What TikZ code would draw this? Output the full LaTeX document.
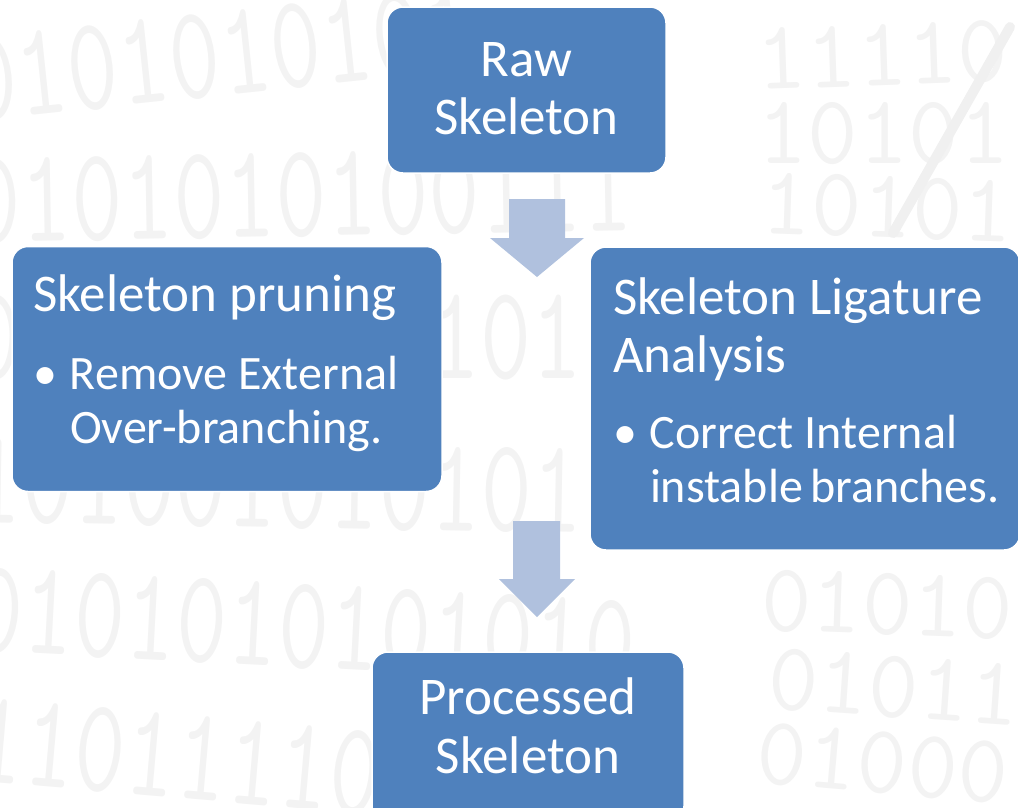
\documentclass[tikz,border=0pt]{standalone}
\usepackage{fontspec}
\setmainfont{Carlito}
\usetikzlibrary{positioning}

\definecolor{boxblue}{RGB}{79,129,189}
\definecolor{arrowblue}{RGB}{176,193,222}
\definecolor{bitgray}{RGB}{243,243,243}

% the fonts' own word spaces, not the ones of the node alignment
\newcommand{\headfont}{\fontsize{53}{58.5}\selectfont\spaceskip=0pt\xspaceskip=0pt\relax}
\newcommand{\itemfont}{\fontsize{48}{54}\selectfont\spaceskip=0pt\xspaceskip=0pt\relax}
\newcommand{\itembullet}{\makebox[37pt][l]{\textbullet}}

\tikzset{
  stepbox/.style={fill=boxblue, draw=white, line width=1.5pt, rounded corners=16pt,
    text=white, inner sep=0pt},
  bigbits/.style={text=bitgray, font=\ttfamily\fontsize{134}{134}\selectfont,
    inner sep=0pt, anchor=base west},
  smallbits/.style={text=bitgray, font=\ttfamily\fontsize{98}{98}\selectfont,
    inner sep=0pt, anchor=base west},
  flowarrow/.style={fill=arrowblue}
}

\begin{document}
\begin{tikzpicture}[x=1pt, y=-1pt]
\useasboundingbox (0,0) rectangle (1018,807);

% binary digits in the background
\node[bigbits, rotate=6]  (bitsa) at (-30,122) {\scalebox{0.74}[1]{0101010101}};
\node[bigbits, rotate=1]  (bitsb) at (-30,242) {\scalebox{0.74}[1]{0101010100111}};
\node[bigbits]            (bitsc) at (-30,378) {\scalebox{0.74}[1]{010101010101}};
\node[bigbits, rotate=-1] (bitsd) at (-30,522) {\scalebox{0.74}[1]{101001010101}};
\node[bigbits, rotate=-3] (bitse) at (-30,650) {\scalebox{0.74}[1]{0101010101010}};
\node[bigbits, rotate=-5] (bitsf) at (-30,780) {\scalebox{0.74}[1]{11011110}};
\node[smallbits, rotate=2]  (bitsg) at (757,90)  {11110};
\node[smallbits]            (bitsh) at (757,163) {10101};
\node[smallbits, rotate=-2] (bitsi) at (760,233) {10101};
\node[smallbits, rotate=-2] (bitsj) at (760,630) {01010};
\node[smallbits, rotate=-4] (bitsk) at (766,708) {01011};
\node[smallbits, rotate=-5] (bitsl) at (754,782) {01000};
\draw[line width=10pt, line cap=round, draw=black!6] (1010,27) -- (893,233);

% the processing stages
\node[stepbox, minimum width=279, minimum height=166, text width=270, align=center]
  (raw) at (526.5,90) {{\headfont Raw\\Skeleton\par}\vspace{3pt}};
\node[stepbox, minimum width=430, minimum height=245, text width=388, align=left]
  (prune) at (227,369)
  {{\headfont Skeleton pruning\par}\vspace{24pt}
   {\itemfont\itembullet Remove External\\\hspace*{37pt}Over-branching.\par}\vspace{12pt}};
\node[stepbox, minimum width=430, minimum height=303, text width=384, align=left]
  (ligature) at (805,398.5)
  {{\headfont Skeleton~Ligature\\Analysis\par}\vspace{22pt}
   {\itemfont\itembullet Correct~Internal\\\hspace*{37pt}instable~branches.\par}\vspace{16pt}};
\node[stepbox, minimum width=312, minimum height=170, text width=300, align=center]
  (processed) at (528,737) {{\headfont Processed\\Skeleton\par}\vspace{22pt}};

% block arrows between the stages
\fill[flowarrow] (509,199) -- (565,199) -- (565,238) -- (584,238) -- (537,277)
  -- (490,238) -- (509,238) -- cycle;
\fill[flowarrow] (513,521) -- (560,521) -- (560,579) -- (575,579) -- (537,617)
  -- (499,579) -- (513,579) -- cycle;
\end{tikzpicture}
\end{document}
